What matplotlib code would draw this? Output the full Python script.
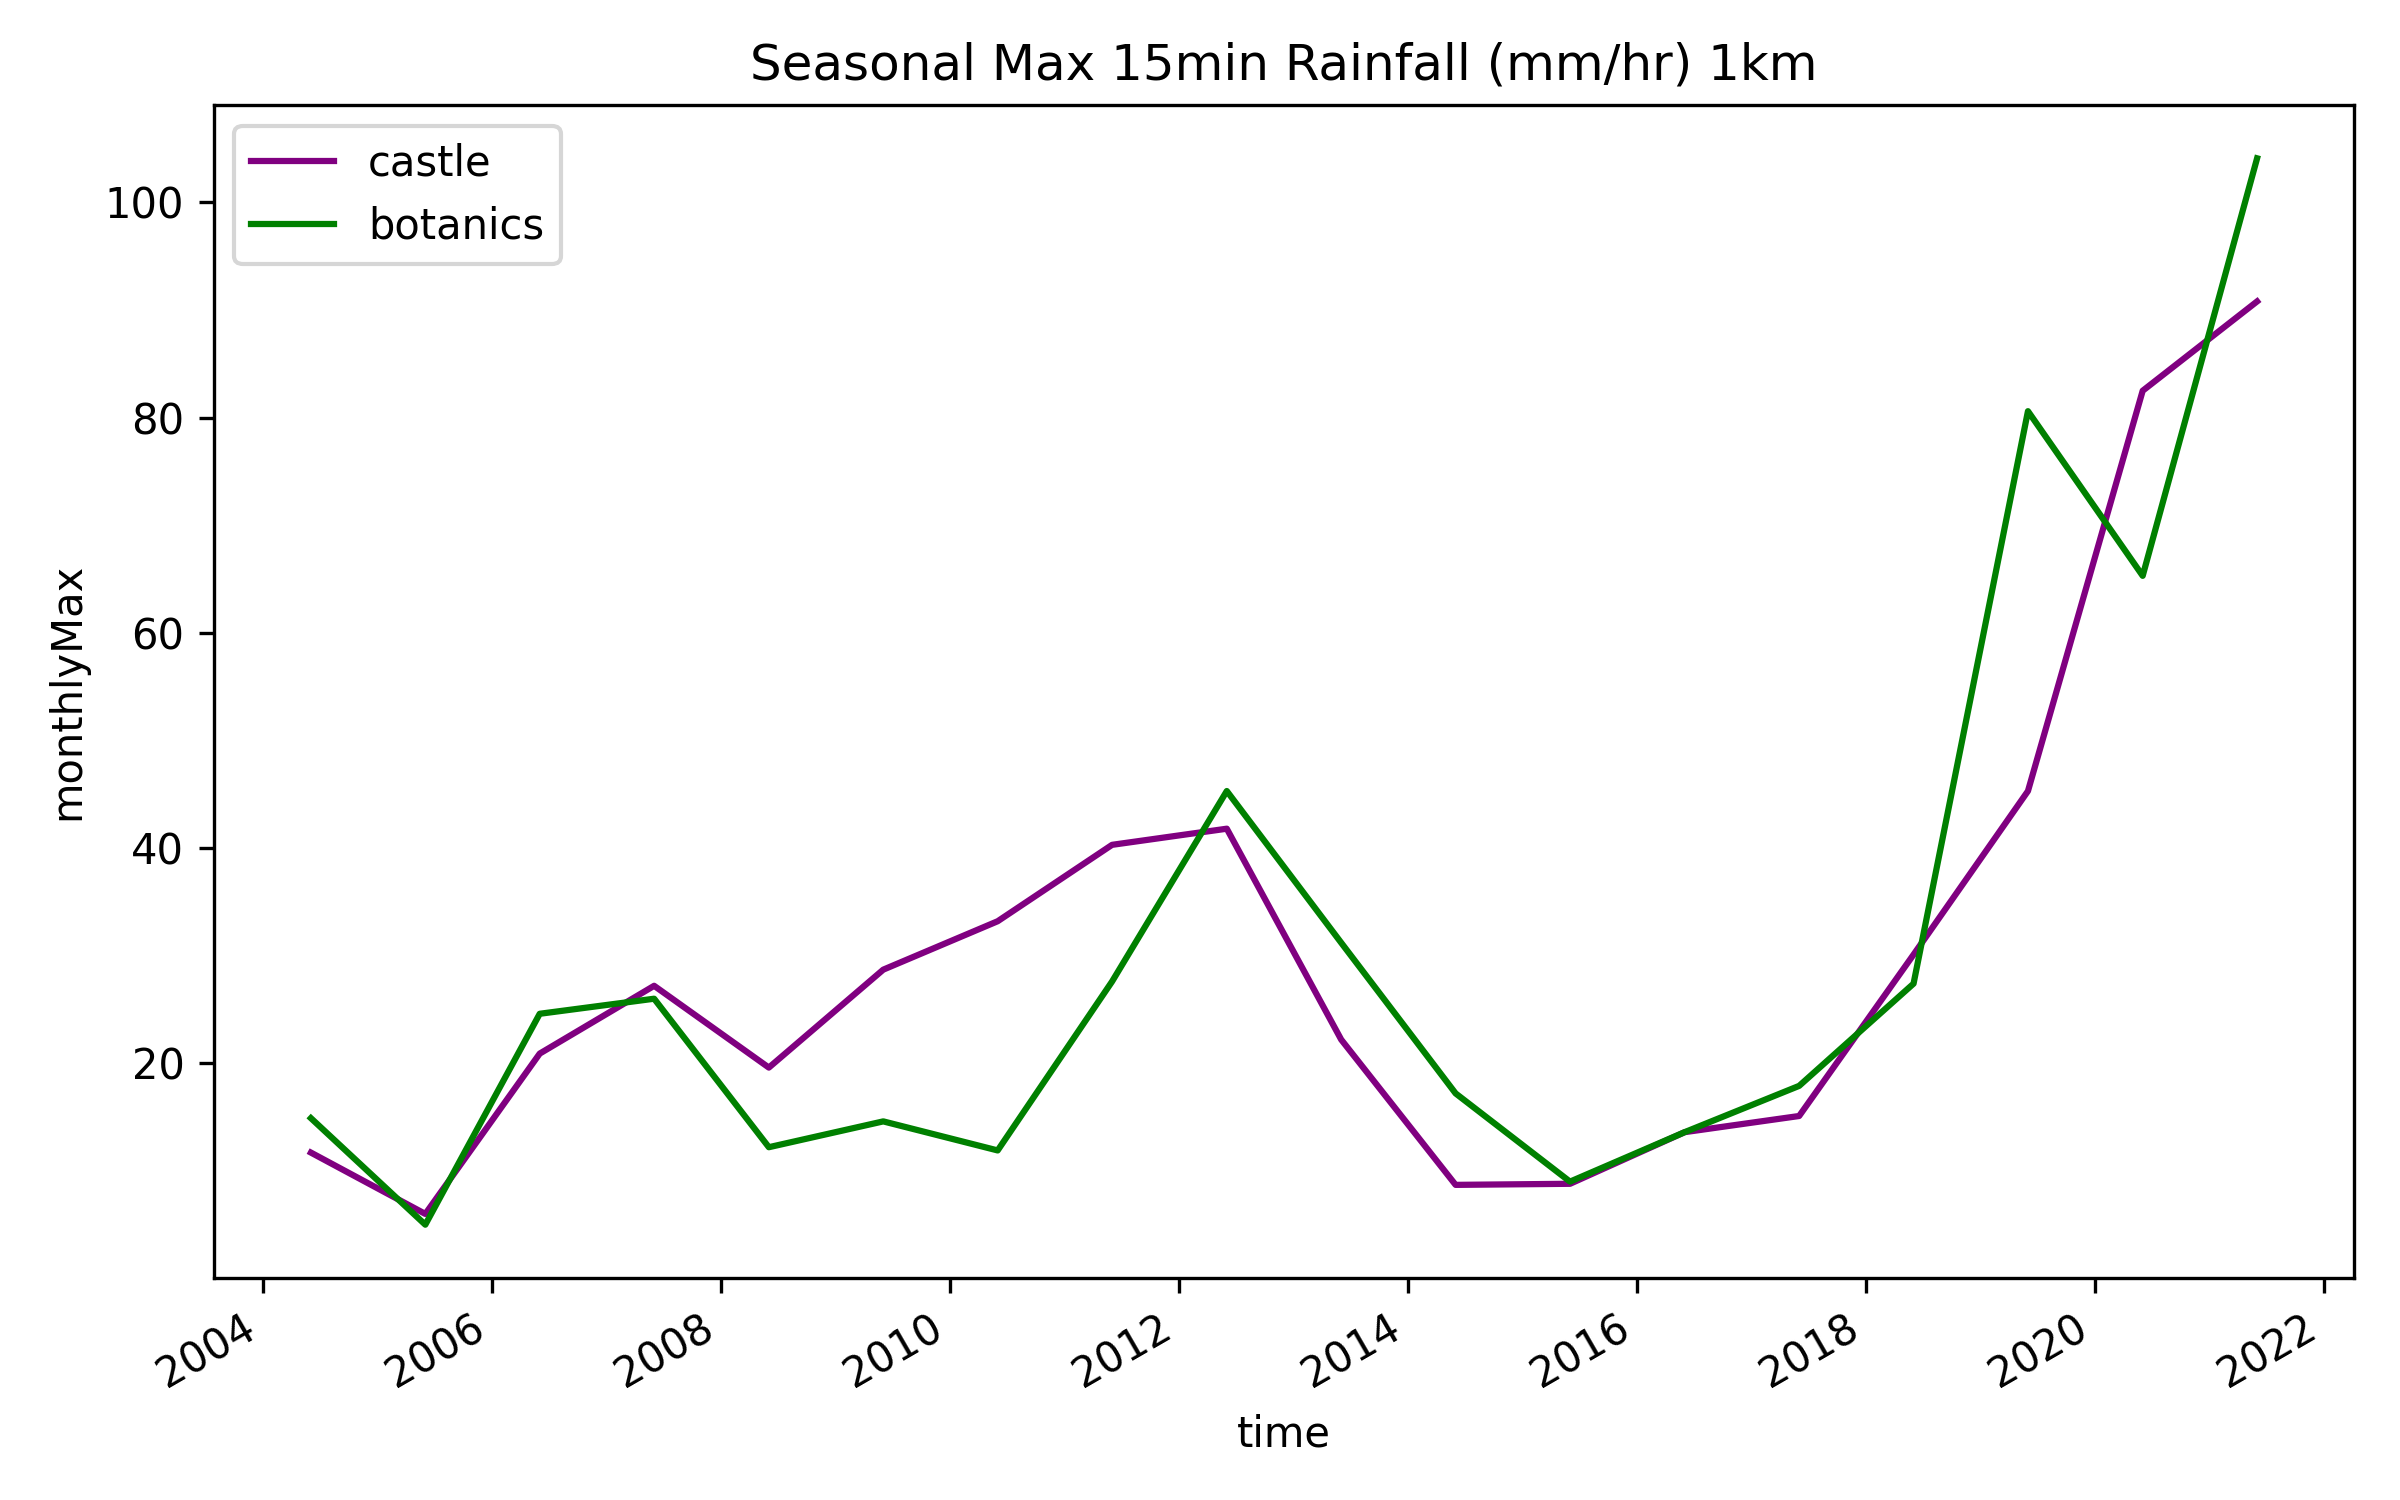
import pandas as pd
import matplotlib
matplotlib.use("Agg")
import matplotlib.pyplot as plt

# seasonal max values, one per year (stamped 1 June)
years = list(range(2004, 2022))
castle = [11.7, 6.0, 20.9, 27.2, 19.6, 28.7, 33.2, 40.3, 41.8, 22.2, 8.7,
          8.8, 13.6, 15.1, 30.1, 45.3, 82.5, 90.8]
botanics = [14.9, 5.0, 24.6, 26.0, 12.2, 14.6, 11.9, 27.6, 45.3, 31.2, 17.2,
            9.0, 13.6, 17.9, 27.4, 80.6, 65.3, 104.1]

time = pd.to_datetime([f"{y}-06-01" for y in years])

fig, ax = plt.subplots(figsize=(8, 5), dpi=300)
ax.plot(time, castle, color="purple", label="castle")
ax.plot(time, botanics, color="green", label="botanics")

ax.set_title("Seasonal Max 15min Rainfall (mm/hr) 1km")
ax.set_xlabel("time")
ax.set_ylabel("monthlyMax")
ax.legend(loc="upper left")
fig.autofmt_xdate()

fig.subplots_adjust(left=0.089, right=0.981, top=0.93, bottom=0.148)
fig.savefig("out.png", dpi=300)
